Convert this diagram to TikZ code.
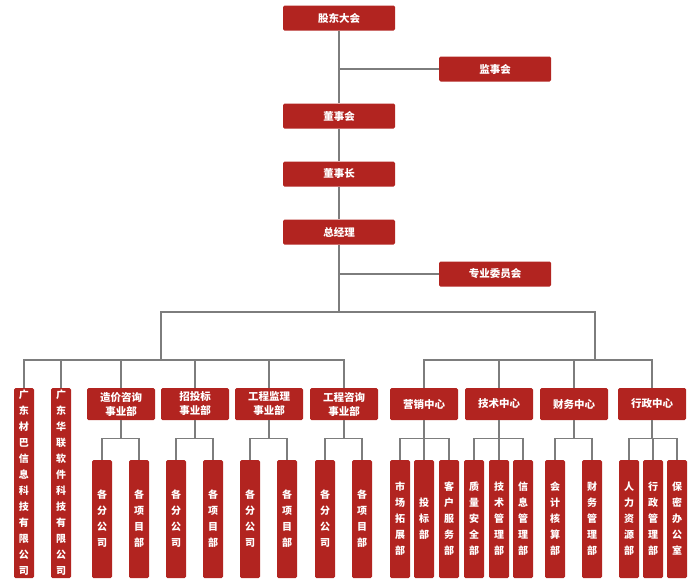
\documentclass[tikz,border=0pt]{standalone}
\usepackage{fontspec}
\usepackage{xcolor}
\usepackage{tikz}
\newfontfamily\cjk{Noto Sans CJK SC}
\definecolor{boxred}{RGB}{178,36,32}
\definecolor{linegray}{RGB}{125,125,125}

\begin{document}
\begin{tikzpicture}[x=1pt,y=-1pt,
    box/.style={fill=boxred, text=white, rounded corners=1.5pt, inner sep=0pt, font=\cjk\bfseries\fontsize{10.5}{14}\selectfont, align=center},
    topbox/.style={box, minimum width=112, minimum height=25},
    midbox/.style={box, minimum width=68, minimum height=32},
    vbox/.style={box, minimum width=20, font=\cjk\bfseries\fontsize{10}{16}\selectfont},
    ln/.style={draw=linegray, line width=1.2pt}]
  \useasboundingbox (0,0) rectangle (699,587);

  \node[topbox] (gd) at (339,18) {股东大会};
  \node[topbox] (jsh) at (495,69) {监事会};
  \node[topbox] (dsh) at (339,116) {董事会};
  \node[topbox] (dsz) at (339,174) {董事长};
  \node[topbox] (zjl) at (339,232) {总经理};
  \node[topbox] (zyw) at (495,274) {专业委员会};

  \node[vbox, minimum height=190] (gc1) at (24,483) {广\\东\\材\\巴\\信\\息\\科\\技\\有\\限\\公\\司};
  \node[vbox, minimum height=190] (gc2) at (61,483) {广\\东\\华\\联\\软\\件\\科\\技\\有\\限\\公\\司};

  \foreach \x/\n/\t in {121/zj/{造价咨询\\事业部}, 195/ztb/{招投标\\事业部}, 269/gcjl/{工程监理\\事业部}, 344/gczx/{工程咨询\\事业部},
      424/yx/营销中心, 499/js/技术中心, 574/cw/财务中心, 652/xz/行政中心}{%
    \node[midbox] (\n) at (\x,404) {\t};
  }

  \foreach \x/\n/\t in {102/zj1/{各\\分\\公\\司}, 139/zj2/{各\\项\\目\\部}, 176/ztb1/{各\\分\\公\\司}, 213/ztb2/{各\\项\\目\\部},
      250/gcjl1/{各\\分\\公\\司}, 287/gcjl2/{各\\项\\目\\部}, 325/gczx1/{各\\分\\公\\司}, 362/gczx2/{各\\项\\目\\部},
      400/yx1/{市\\场\\拓\\展\\部}, 424/yx2/{投\\标\\部}, 449/yx3/{客\\户\\服\\务\\部},
      474/js1/{质\\量\\安\\全\\部}, 499/js2/{技\\术\\管\\理\\部}, 523/js3/{信\\息\\管\\理\\部},
      555/cw1/{会\\计\\核\\算\\部}, 592/cw2/{财\\务\\管\\理\\部},
      629/xz1/{人\\力\\资\\源\\部}, 653/xz2/{行\\政\\管\\理\\部}, 677/xz3/{保\\密\\办\\公\\室}}{%
    \node[vbox, minimum height=118] (\n) at (\x,519) {\t};
  }

  % trunk
  \coordinate (bus) at (339,312);
  \coordinate (lb) at (161,360);
  \coordinate (rb) at (595,360);
  \draw[ln] (gd) -- (dsh) -- (dsz) -- (zjl) -- (bus);
  \draw[ln] (jsh.west) -- (jsh.west -| gd.south);
  \draw[ln] (zyw.west) -- (zyw.west -| zjl.south);
  \draw[ln] (lb) |- (bus) -| (rb);
  \foreach \n in {gc1,gc2,zj,ztb,gcjl,gczx}
    \draw[ln] (lb) -| (\n.north);
  \foreach \n in {yx,js,cw,xz}
    \draw[ln] (rb) -| (\n.north);

  % departments
  \foreach \p/\c in {zj/zj1, zj/zj2, ztb/ztb1, ztb/ztb2, gcjl/gcjl1, gcjl/gcjl2, gczx/gczx1, gczx/gczx2,
      yx/yx1, yx/yx2, yx/yx3, js/js1, js/js2, js/js3, cw/cw1, cw/cw2, xz/xz1, xz/xz2, xz/xz3}
    \draw[ln] (\p.south) -- ++(0,18) -| (\c.north);
\end{tikzpicture}
\end{document}
